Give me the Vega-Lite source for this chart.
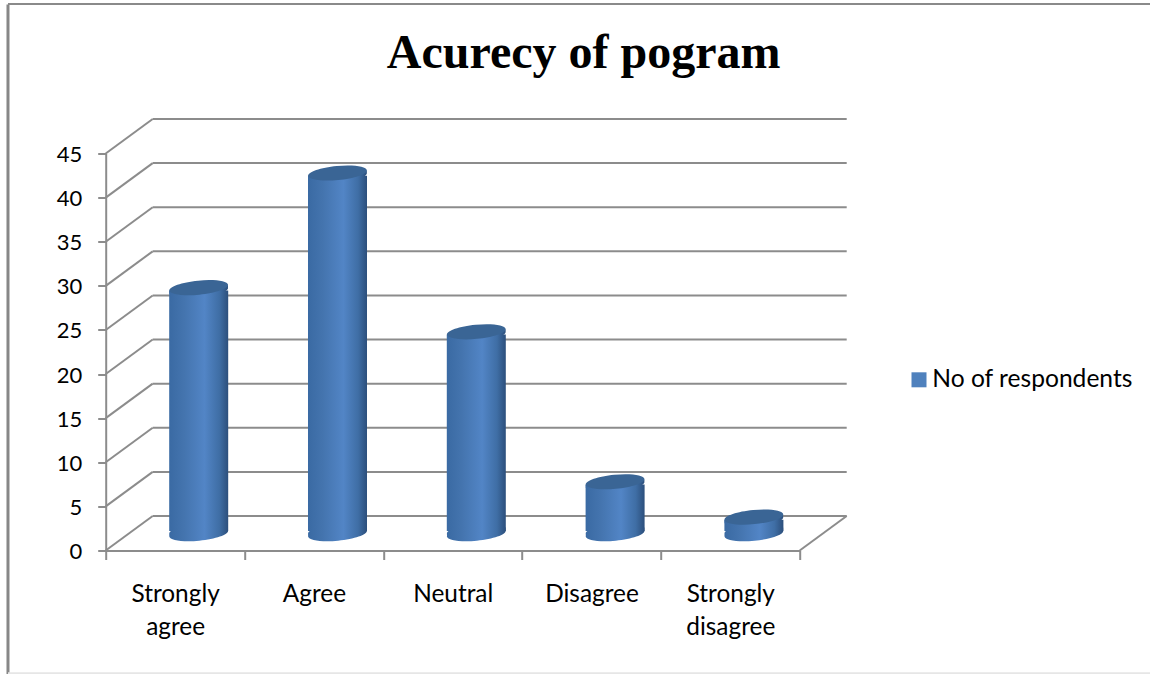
{
"$schema":"https://vega.github.io/schema/vega-lite/v6.json",
"autosize":{"type":"none"},
"width":694,"height":397,
"padding":{"left":105.7,"top":153.5,"right":350.3,"bottom":123.5},
"background":"white",
"config":{"view":{"stroke":null},"axisY":{"grid":false,"tickCount":10,"labelFont":"Lato","labelFontSize":22,"labelColor":"#000000","labelPadding":16,"labelOffset":1,"tickSize":8,"tickWidth":2,"tickColor":"#8c8c8c","domainColor":"#8c8c8c","domainWidth":2}},
"title":{"text":"Acurecy of pogram","frame":"group","font":"Liberation Serif","fontWeight":"bold","fontSize":48,"color":"#000000","anchor":"middle","dx":131,"offset":0,"dy":75},
"datasets":{
"levels":[{"level":0},{"level":5},{"level":10},{"level":15},{"level":20},{"level":25},{"level":30},{"level":35},{"level":40},{"level":45}],
"bars":[
{"category":"Strongly agree","value":28,"series":"No of respondents"},
{"category":"Agree","value":41,"series":"No of respondents"},
{"category":"Neutral","value":23,"series":"No of respondents"},
{"category":"Disagree","value":6,"series":"No of respondents"},
{"category":"Strongly disagree","value":2,"series":"No of respondents"}]
},
"resolve":{"scale":{"x":"independent"}},
"layer":[
{"data":{"values":[{"a":1}]},"mark":{"type":"rule","color":"#878787","strokeWidth":3},
 "encoding":{"x":{"datum":-0.704,"type":"quantitative","scale":{"domain":[0,5]},"axis":null},"y":{"datum":61.9,"type":"quantitative","title":null,"scale":{"domain":[0,45],"nice":false}},"y2":{"datum":-14.2}}},
{"data":{"values":[{"a":1}]},"mark":{"type":"rule","color":"#8a8a8a","strokeWidth":2},
 "encoding":{"x":{"datum":-0.704,"type":"quantitative","scale":{"domain":[0,5]},"axis":null},"x2":{"datum":7.6},"y":{"datum":61.95,"type":"quantitative","title":null}}},
{"data":{"values":[{"a":1}]},"mark":{"type":"rule","color":"#e6e6e6","strokeWidth":2},
 "encoding":{"x":{"datum":-0.704,"type":"quantitative","scale":{"domain":[0,5]},"axis":null},"x2":{"datum":7.6},"y":{"datum":-13.9,"type":"quantitative","title":null}}},
{"data":{"name":"levels"},"mark":{"type":"rule","color":"#8c8c8c","strokeWidth":2,"xOffset":47,"x2Offset":47,"yOffset":-34.5},
 "encoding":{"x":{"datum":0,"type":"quantitative","scale":{"domain":[0,5]},"axis":null},"x2":{"datum":5},"y":{"field":"level","type":"quantitative","title":null}}},
{"data":{"name":"levels"},"mark":{"type":"rule","color":"#8c8c8c","strokeWidth":2,"x2Offset":47,"y2Offset":-34.5},
 "encoding":{"x":{"datum":0,"type":"quantitative","scale":{"domain":[0,5]},"axis":null},"x2":{"datum":0},"y":{"field":"level","type":"quantitative","title":null},"y2":{"field":"level"}}},
{"data":{"values":[{"level":0}]},"mark":{"type":"rule","color":"#8c8c8c","strokeWidth":2,"x2Offset":47,"y2Offset":-34.5},
 "encoding":{"x":{"datum":5,"type":"quantitative","scale":{"domain":[0,5]},"axis":null},"x2":{"datum":5},"y":{"field":"level","type":"quantitative","title":null},"y2":{"field":"level"}}},
{"data":{"name":"bars"},"mark":{"type":"point","filled":true,"size":3481,"opacity":1,"xOffset":23.6,"yOffset":-16.8,
  "shape":"M-0.9954,0.0958 C-1.0081,-0.0361 -0.5728,-0.186 -0.023,-0.2389 C0.5268,-0.2918 0.9827,-0.2277 0.9954,-0.0958 C1.0081,0.0361 0.5728,0.186 0.023,0.2389 C-0.5268,0.2918 -0.9827,0.2277 -0.9954,0.0958 Z",
  "fill":{"gradient":"linear","x1":0,"y1":0,"x2":1,"y2":0,"stops":[{"offset":0,"color":"#3a6aa3"},{"offset":0.25,"color":"#4474ae"},{"offset":0.6,"color":"#5285c6"},{"offset":0.85,"color":"#3f6ea5"},{"offset":1,"color":"#2c4f7c"}]}},
 "encoding":{"x":{"field":"category","type":"nominal","sort":null,"axis":null},"y":{"datum":0,"type":"quantitative","title":null}}},
{"data":{"name":"bars"},"mark":{"type":"point","filled":true,"size":3481,"opacity":1,"xOffset":23.6,"yOffset":-18.2,
  "shape":"M-0.9954,0.0958 C-1.0081,-0.0361 -0.5728,-0.186 -0.023,-0.2389 C0.5268,-0.2918 0.9827,-0.2277 0.9954,-0.0958 C1.0081,0.0361 0.5728,0.186 0.023,0.2389 C-0.5268,0.2918 -0.9827,0.2277 -0.9954,0.0958 Z",
  "fill":{"gradient":"linear","x1":0,"y1":0,"x2":1,"y2":0,"stops":[{"offset":0,"color":"#3a6aa3"},{"offset":0.25,"color":"#4474ae"},{"offset":0.6,"color":"#5285c6"},{"offset":0.85,"color":"#3f6ea5"},{"offset":1,"color":"#2c4f7c"}]}},
 "encoding":{"x":{"field":"category","type":"nominal","sort":null,"axis":null},"y":{"datum":0,"type":"quantitative","title":null}}},
{"data":{"name":"bars"},"mark":{"type":"point","filled":true,"size":3481,"opacity":1,"xOffset":23.6,"yOffset":-19.6,
  "shape":"M-0.9954,0.0958 C-1.0081,-0.0361 -0.5728,-0.186 -0.023,-0.2389 C0.5268,-0.2918 0.9827,-0.2277 0.9954,-0.0958 C1.0081,0.0361 0.5728,0.186 0.023,0.2389 C-0.5268,0.2918 -0.9827,0.2277 -0.9954,0.0958 Z",
  "fill":{"gradient":"linear","x1":0,"y1":0,"x2":1,"y2":0,"stops":[{"offset":0,"color":"#3a6aa3"},{"offset":0.25,"color":"#4474ae"},{"offset":0.6,"color":"#5285c6"},{"offset":0.85,"color":"#3f6ea5"},{"offset":1,"color":"#2c4f7c"}]}},
 "encoding":{"x":{"field":"category","type":"nominal","sort":null,"axis":null},"y":{"datum":0,"type":"quantitative","title":null}}},
{"data":{"name":"bars"},"mark":{"type":"point","filled":true,"size":3481,"opacity":1,"xOffset":23.6,"yOffset":-14.4,
  "shape":"M-0.9954,0.0958 C-1.0081,-0.0361 -0.5728,-0.186 -0.023,-0.2389 C0.5268,-0.2918 0.9827,-0.2277 0.9954,-0.0958 C1.0081,0.0361 0.5728,0.186 0.023,0.2389 C-0.5268,0.2918 -0.9827,0.2277 -0.9954,0.0958 Z",
  "fill":{"gradient":"linear","x1":0,"y1":0,"x2":1,"y2":0,"stops":[{"offset":0,"color":"#3a6aa3"},{"offset":0.25,"color":"#4474ae"},{"offset":0.6,"color":"#5285c6"},{"offset":0.85,"color":"#3f6ea5"},{"offset":1,"color":"#2c4f7c"}]}},
 "encoding":{"x":{"field":"category","type":"nominal","sort":null,"axis":null},"y":{"field":"value","type":"quantitative","title":null}}},
{"data":{"name":"bars"},"mark":{"type":"point","filled":true,"size":3481,"opacity":1,"xOffset":23.6,"yOffset":-13,
  "shape":"M-0.9954,0.0958 C-1.0081,-0.0361 -0.5728,-0.186 -0.023,-0.2389 C0.5268,-0.2918 0.9827,-0.2277 0.9954,-0.0958 C1.0081,0.0361 0.5728,0.186 0.023,0.2389 C-0.5268,0.2918 -0.9827,0.2277 -0.9954,0.0958 Z",
  "fill":{"gradient":"linear","x1":0,"y1":0,"x2":1,"y2":0,"stops":[{"offset":0,"color":"#3a6aa3"},{"offset":0.25,"color":"#4474ae"},{"offset":0.6,"color":"#5285c6"},{"offset":0.85,"color":"#3f6ea5"},{"offset":1,"color":"#2c4f7c"}]}},
 "encoding":{"x":{"field":"category","type":"nominal","sort":null,"axis":null},"y":{"field":"value","type":"quantitative","title":null}}},
{"data":{"name":"bars"},"mark":{"type":"bar","width":59,"xOffset":23.6,"yOffset":-13,"y2Offset":-19.6,
  "fill":{"gradient":"linear","x1":0,"y1":0,"x2":1,"y2":0,"stops":[{"offset":0,"color":"#3a6aa3"},{"offset":0.25,"color":"#4474ae"},{"offset":0.6,"color":"#5285c6"},{"offset":0.85,"color":"#3f6ea5"},{"offset":1,"color":"#2c4f7c"}]}},
 "encoding":{"x":{"field":"category","type":"nominal","sort":null,"scale":{"paddingInner":0,"paddingOuter":0},"axis":{"title":null,"labelAngle":0,"labelAlign":"center","labelFont":"Lato","labelFontSize":24.4,"labelColor":"#000000","labelPadding":23,"labelLineHeight":33,"labelLimit":0,"tickBand":"extent","tickSize":9,"tickWidth":2,"tickColor":"#8c8c8c","domainColor":"#8c8c8c","domainWidth":2,"labelExpr":"split(datum.label,' ')"}},
  "y":{"field":"value","type":"quantitative","title":null},
  "y2":{"datum":0}}},
{"data":{"name":"bars"},"mark":{"type":"point","filled":true,"size":3481,"opacity":1,"xOffset":23.6,"yOffset":-15.8,"fill":"#3a6595",
  "shape":"M-0.9954,0.0958 C-1.0081,-0.0361 -0.5728,-0.186 -0.023,-0.2389 C0.5268,-0.2918 0.9827,-0.2277 0.9954,-0.0958 C1.0081,0.0361 0.5728,0.186 0.023,0.2389 C-0.5268,0.2918 -0.9827,0.2277 -0.9954,0.0958 Z"},
 "encoding":{"x":{"field":"category","type":"nominal","sort":null,"axis":null},"y":{"field":"value","type":"quantitative","title":null}}},
{"data":{"name":"bars"},"mark":{"type":"square","opacity":0,"size":1},
 "encoding":{"y":{"field":"value","type":"quantitative","title":null},
  "color":{"field":"series","type":"nominal","scale":{"range":["#4f81bd"]},"legend":{"title":null,"orient":"none","legendX":801,"legendY":214,"symbolType":"square","symbolSize":225,"symbolOpacity":1,"symbolStrokeWidth":0,"labelFont":"Lato","labelFontSize":24.6,"labelColor":"#000000","labelOffset":1,"labelLimit":0}}}}
]
}
